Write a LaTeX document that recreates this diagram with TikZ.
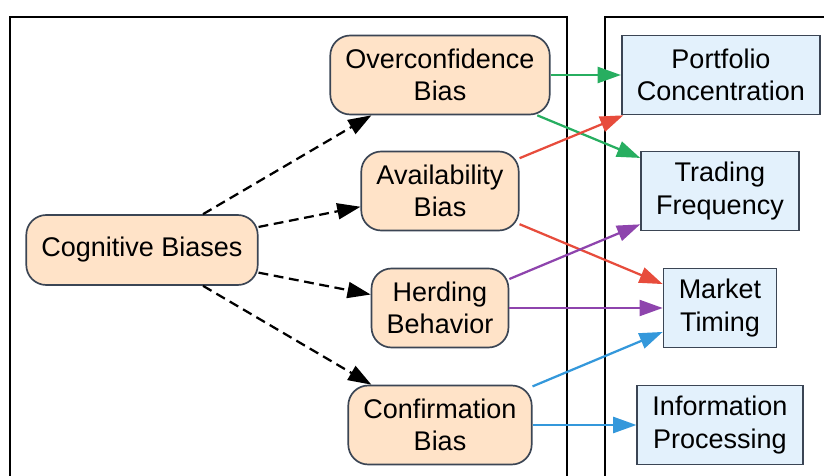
\documentclass[tikz,border=0pt]{standalone}
\usepackage{fontspec}
\setmainfont{Liberation Sans}
\usepackage{tikz}
\usetikzlibrary{arrows.meta}

\definecolor{biasfill}{HTML}{FFE3C8}
\definecolor{effectfill}{HTML}{E3F1FC}
\definecolor{nodeline}{HTML}{3B4554}
\definecolor{greenarr}{HTML}{27AE60}
\definecolor{redarr}{HTML}{E74C3C}
\definecolor{purplearr}{HTML}{8E44AD}
\definecolor{bluearr}{HTML}{3498DB}

\tikzset{
  bias/.style={draw=nodeline, line width=1.2pt, fill=biasfill, rounded corners=0.5cm,
    align=center, inner xsep=0.38cm, minimum height=1.975cm},
  effect/.style={draw=nodeline, line width=1.2pt, fill=effectfill,
    align=center, inner xsep=0.38cm, minimum height=1.975cm},
  cluster/.style={draw=black, line width=1.3pt},
  link/.style={line width=1.6pt, -{Triangle[length=0.58cm,width=0.4cm]}},
  feeds/.style={link, dash pattern=on 7pt off 4pt}
}

\begin{document}
\begin{tikzpicture}[font=\fontsize{19.2}{23}\selectfont]
      \useasboundingbox (0,0) rectangle (20.6,-11.9);
      \clip (0,0) rectangle (20.6,-11.9);
      \draw[cluster] (0.25,-0.425) rectangle (14.17,-12.5);
      \draw[cluster] (15.125,-0.425) rectangle (21,-12.5);

      \node[bias, minimum height=1.75cm] (cog) at (3.55,-6.25) {Cognitive Biases};
      \node[bias] (over) at (11,-1.875) {Overconfidence\\Bias};
      \node[bias] (avail) at (11,-4.775) {Availability\\Bias};
      \node[bias] (herd) at (11,-7.7) {Herding\\Behavior};
      \node[bias] (conf) at (11,-10.625) {Confirmation\\Bias};

      \node[effect] (port) at (18.025,-1.875) {Portfolio\\Concentration};
      \node[effect] (trad) at (18,-4.775) {Trading\\Frequency};
      \node[effect] (mkt) at (18,-7.7) {Market\\Timing};
      \node[effect] (info) at (18,-10.625) {Information\\Processing};

      \draw[feeds] (cog) -- (over);
      \draw[feeds] (cog) -- (avail);
      \draw[feeds] (cog) -- (herd);
      \draw[feeds] (cog) -- (conf);

      \draw[link, greenarr] (over) -- (port);
      \draw[link, greenarr] (over) -- (trad);
      \draw[link, redarr] (avail) -- (port);
      \draw[link, redarr] (avail) -- (mkt);
      \draw[link, purplearr] (herd) -- (trad);
      \draw[link, purplearr] (herd) -- (mkt);
      \draw[link, bluearr] (conf) -- (mkt);
      \draw[link, bluearr] (conf) -- (info);
    \end{tikzpicture}
\end{document}
